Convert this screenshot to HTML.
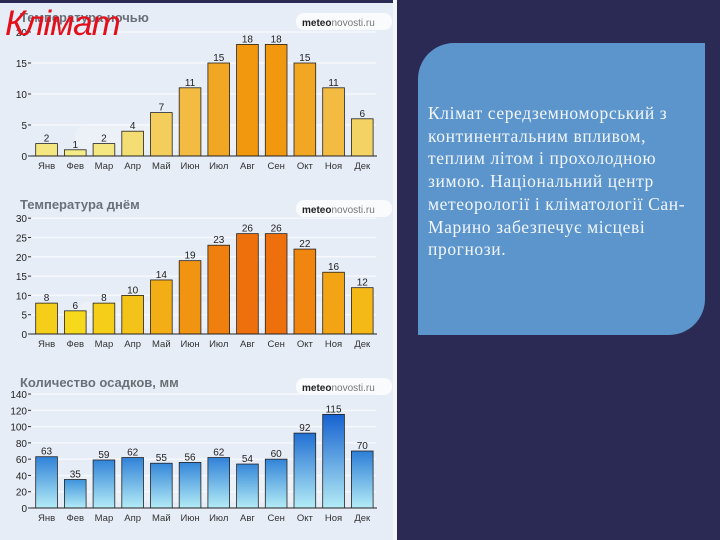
<!DOCTYPE html>
<html><head><meta charset="utf-8"><style>
html,body{margin:0;padding:0;width:720px;height:540px;overflow:hidden;background:#2b2a55;}
#left{position:absolute;left:0;top:3px;width:393px;height:537px;background:#e6edf6;}
#stripe{position:absolute;left:393px;top:0;width:4px;height:540px;background:#f4f6fa;}
#box{position:absolute;left:418px;top:43px;width:287px;height:292px;background:#5b95cb;border-radius:36px 0 36px 0;}
#txt{position:absolute;left:428px;top:102px;width:290px;color:#f2f6fb;font-family:"Liberation Serif",serif;font-size:17.5px;letter-spacing:0.6px;line-height:22.7px;white-space:nowrap;}
#title{position:absolute;left:5px;top:4px;color:#e3101c;font-family:"Liberation Sans",sans-serif;font-style:italic;font-size:35px;letter-spacing:-1px;}
svg{position:absolute;left:0;top:0;}
</style></head><body>
<div id="left"></div><div id="stripe"></div>
<svg id="s" width="395" height="540" xmlns="http://www.w3.org/2000/svg" font-family="Liberation Sans, sans-serif"></svg>
<div id="title">Клімат</div>
<div id="box"></div>
<div id="txt">Клімат середземноморський з<br>континентальним впливом,<br>теплим літом і прохолодною<br>зимою. Національний центр<br>метеорології і кліматології Сан-<br>Марино забезпечує місцеві<br>прогнози.</div>
<script>
var s=document.getElementById('s');var h='';
var m=['Янв','Фев','Мар','Апр','Май','Июн','Июл','Авг','Сен','Окт','Ноя','Дек'];
function lerp(a,b,t){var r='#';for(var k=0;k<3;k++){var x=parseInt(a.substr(1+2*k,2),16),y=parseInt(b.substr(1+2*k,2),16);var v=Math.round(x+(y-x)*t).toString(16);r+=(v.length<2?'0':'')+v;}return r;}
function chart(id,title,tY,base,scale,vals,ticks,step,lo,hi,mode){
 h+='<text x="20" y="'+tY+'" font-size="13" font-weight="bold" fill="#6b7078">'+title+'</text>';
 h+='<rect x="296" y="'+(tY-9)+'" width="96" height="17" rx="8" fill="#fafbfd"/>';
 h+='<text x="302" y="'+(tY+4)+'" font-size="10" font-weight="bold" fill="#222">meteo<tspan fill="#777" font-weight="normal">novosti.ru</tspan></text>';
 h+='<rect x="75" y="'+(base-32)+'" width="255" height="26" rx="13" fill="#ffffff" opacity="0.25"/>';
 for(var t=0;t<=ticks;t+=step){var y=base-t*scale;
  if(t>0)h+='<line x1="32" x2="376" y1="'+y+'" y2="'+y+'" stroke="#f5f8fc" stroke-width="1.5"/>';
  h+='<text x="27" y="'+(y+4)+'" font-size="10" text-anchor="end" fill="#222">'+t+'</text><line x1="28" x2="31" y1="'+y+'" y2="'+y+'" stroke="#333"/>';}
 var mx=Math.max.apply(null,vals),mn=Math.min.apply(null,vals);
 for(var i=0;i<12;i++){var x=35.7+i*28.7,v=vals[i],bh=v*scale,c;
  var tt=(v-mn)/(mx-mn);
  if(mode=='b'){h+='<defs><linearGradient id="g'+id+i+'" x1="0" y1="0" x2="0" y2="1"><stop offset="0" stop-color="'+lerp('#3e93dc','#1662d0',tt)+'"/><stop offset="1" stop-color="#b4ecf6"/></linearGradient></defs>';c='url(#g'+id+i+')';}
  else c=lerp(lo,hi,tt);
  h+='<rect x="'+x+'" y="'+(base-bh)+'" width="21.7" height="'+bh+'" fill="'+c+'" stroke="#222" stroke-width="0.8"/>';
  h+='<text x="'+(x+10.85)+'" y="'+(base-bh-2)+'" font-size="10" text-anchor="middle" fill="#222">'+v+'</text>';
  h+='<text x="'+(x+10.85)+'" y="'+(base+13)+'" font-size="9.5" text-anchor="middle" fill="#333">'+m[i]+'</text>';}
 h+='<line x1="31" x2="377" y1="'+base+'" y2="'+base+'" stroke="#222" stroke-width="1"/>';
}
chart('a','Температура ночью',22,156,6.2,[2,1,2,4,7,11,15,18,18,15,11,6],20,5,'#f4ec88','#f2980f','y');
chart('b','Температура днём',209,334,3.86,[8,6,8,10,14,19,23,26,26,22,16,12],30,5,'#f6d81c','#ee700c','y');
chart('c','Количество осадков, мм',387,508,0.814,[63,35,59,62,55,56,62,54,60,92,115,70],140,20,'','','b');
s.innerHTML=h;
</script>
</body></html>
